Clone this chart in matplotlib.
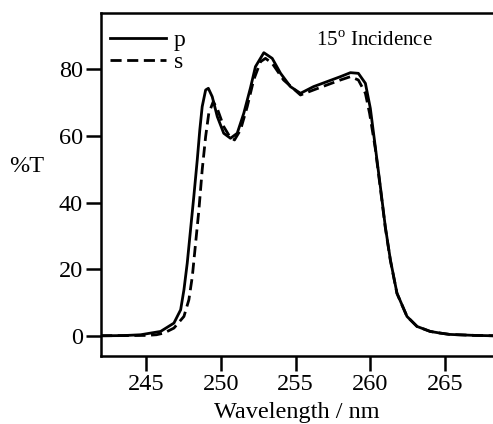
import matplotlib
matplotlib.use("Agg")
import matplotlib.pyplot as plt

plt.rcParams['font.family'] = ['Liberation Serif', 'DejaVu Serif']
plt.rcParams['mathtext.fontset'] = 'custom'
plt.rcParams['mathtext.rm'] = 'Liberation Serif'

# p-polarised transmission
p_wl = [242.0, 243.5, 244.65, 245.98, 246.87, 247.32, 247.54, 247.76, 247.98, 248.2,
        248.43, 248.6, 248.76, 248.99, 249.17, 249.43, 249.77, 250.2, 250.65, 251.1,
        251.54, 251.99, 252.32, 252.88, 253.44, 254.0, 254.66, 255.33, 256.2, 257.1,
        258.0, 258.67, 259.2, 259.67, 260.0, 260.33, 260.67, 261.0, 261.34, 261.78,
        262.45, 263.12, 264.0, 264.67, 265.3, 267.0, 268.2]
p_T = [0.0, 0.05, 0.3, 1.3, 3.8, 7.8, 13.8, 21.8, 31.8, 41.8,
       52.8, 61.8, 68.8, 73.8, 74.3, 71.8, 65.8, 60.8, 59.3, 60.8,
       66.8, 74.5, 80.8, 85.0, 83.3, 78.8, 74.8, 72.8, 74.8, 76.3,
       77.8, 79.0, 78.8, 75.8, 68.3, 56.8, 44.8, 32.8, 22.8, 12.8,
       5.8, 2.8, 1.3, 0.8, 0.4, 0.1, 0.0]

# s-polarised transmission
s_wl = [242.0, 245.0, 245.7, 246.2, 246.87, 247.54, 247.87, 248.1, 248.32, 248.54,
        248.76, 248.99, 249.2, 249.5, 249.8, 250.2, 250.6, 250.92, 251.32, 251.77,
        252.2, 252.66, 252.99, 253.44, 254.2, 255.33, 256.2, 257.1, 258.0, 258.67,
        259.2, 259.67, 259.95, 260.33, 260.67, 261.0, 261.34, 261.78, 262.45, 263.12,
        264.0, 264.67, 265.3, 267.0, 268.2]
s_T = [0.0, 0.1, 0.3, 0.8, 2.3, 5.8, 10.8, 17.8, 27.8, 37.8,
       49.8, 59.8, 66.8, 70.3, 67.8, 62.8, 59.8, 58.8, 61.8, 68.8,
       76.8, 82.3, 83.3, 81.8, 76.8, 72.3, 73.8, 75.3, 76.8, 77.8,
       76.8, 72.8, 66.8, 56.3, 44.3, 32.5, 22.6, 12.7, 5.8, 2.8,
       1.3, 0.8, 0.4, 0.1, 0.0]

xticks = [245, 250, 255, 260, 265]
yticks = [0, 20, 40, 60, 80]

fig = plt.figure(figsize=(4.93, 4.24), dpi=100)
ax = fig.add_axes([0.205, 0.161, 0.795, 0.809])

ax.plot(p_wl, p_T, color='black', lw=2.0, label='p')
ax.plot(s_wl, s_T, color='black', lw=2.0, dashes=(4, 2), label='s')

ax.set_xlim(242.0, 268.2)
ax.set_ylim(-6, 97)
ax.set_xticks(xticks)
ax.set_yticks(yticks)
ax.tick_params(direction='out', length=11, width=1.8, labelsize=17.5, pad=2)
for sp in ax.spines.values():
    sp.set_linewidth(1.8)
ax.spines['right'].set_visible(False)

ax.set_xlabel('Wavelength / nm', fontsize=17.5, labelpad=5)
ax.set_ylabel('%T', fontsize=17.5, rotation=0)
ax.yaxis.set_label_coords(-0.19, 0.52)

ax.text(260.3, 88.3, '15$^{\\mathrm{o}}$ Incidence', fontsize=15, ha='center', va='center')

ax.legend(loc='upper left', bbox_to_anchor=(-0.02, 1.0), frameon=False, fontsize=17,
          handlelength=2.4, handletextpad=0.3, labelspacing=0.05, borderpad=0.7,
          borderaxespad=0.0)

fig.savefig('out.png', dpi=100)
